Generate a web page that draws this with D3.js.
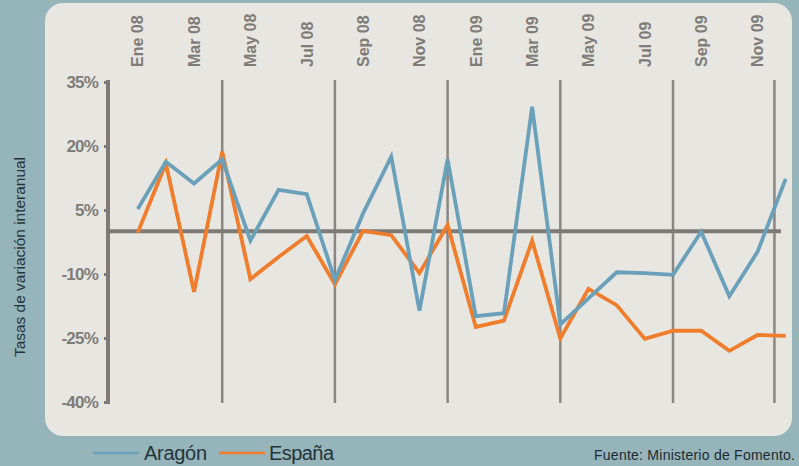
<!DOCTYPE html>
<html><head><meta charset="utf-8">
<script src="https://cdn.jsdelivr.net/npm/d3@7"></script>
<style>body{margin:0;background:#96b5bb;}svg{display:block;font-family:"Liberation Sans",Arial,sans-serif;}</style>
</head><body>
<svg id="c" width="799" height="466"></svg>
<script>
const months = ["Ene 08","Feb 08","Mar 08","Abr 08","May 08","Jun 08","Jul 08","Ago 08","Sep 08","Oct 08","Nov 08","Dic 08",
                "Ene 09","Feb 09","Mar 09","Abr 09","May 09","Jun 09","Jul 09","Ago 09","Sep 09","Oct 09","Nov 09","Dic 09"];
const tickMonths = ["Ene 08","Mar 08","May 08","Jul 08","Sep 08","Nov 08","Ene 09","Mar 09","May 09","Jul 09","Sep 09","Nov 09"];
const aragon = [5.2,16.3,11.2,16.9,-2.2,9.7,8.7,-11.4,4.2,17.5,-18.6,16.9,-19.9,-19.2,29.2,-21.8,-15.7,-9.6,-9.8,-10.2,-0.1,-15.2,-4.8,12.3];
const espana = [-0.3,15.9,-14.2,18.7,-11.2,-6.0,-1.1,-12.4,0.1,-0.9,-9.8,1.5,-22.4,-20.9,-2.2,-25.1,-13.5,-17.3,-25.2,-23.3,-23.3,-28.0,-24.3,-24.5];
const yTicks = [35,20,5,-10,-25,-40];
const gridAt = [3,7,11,15,19,22.6];
const seriesNames = ["Aragón","España"];
const colors = ["#6aa0ba","#f07d2c"];

const svg = d3.select("#c");
svg.append("rect").attr("x",0).attr("y",0).attr("width",799).attr("height",466).attr("fill","#96b5bb");
svg.append("rect").attr("x",45).attr("y",3).attr("width",747).attr("height",433).attr("rx",18).attr("fill","#e8e6e1");

const x = d3.scaleLinear().domain([0, months.length-1]).range([137.7, 785.7]);
const y = d3.scaleLinear().domain([-40,35]).range([402,82]);
const gray = "#7e7b77";

// vertical grid lines
svg.append("g").selectAll("line").data(gridAt).join("line")
  .attr("x1",d=>x(d)).attr("x2",d=>x(d)).attr("y1",80).attr("y2",403)
  .attr("stroke","#8a8783").attr("stroke-width",2.5);

// zero line
svg.append("line").attr("x1",108).attr("x2",781).attr("y1",y(0)).attr("y2",y(0))
  .attr("stroke",gray).attr("stroke-width",4);

// y axis
const yAxis = d3.axisLeft(y).tickValues(yTicks).tickFormat(d=>d+"%").tickSize(4).tickPadding(6);
const ga = svg.append("g").attr("transform","translate(108,0)").call(yAxis);
ga.select(".domain").attr("d","M0,80V404").attr("stroke",gray).attr("stroke-width",4).attr("fill","none");
ga.selectAll(".tick line").attr("stroke",gray).attr("stroke-width",3);
ga.selectAll(".tick text").attr("fill","#7f7c78").attr("font-size",17).attr("font-weight","bold")
  .attr("font-family","Liberation Sans, Arial, sans-serif").attr("letter-spacing",-0.8);

// x labels (top, rotated)
svg.append("g").selectAll("text").data(tickMonths).join("text")
  .attr("transform",d=>`translate(${x(months.indexOf(d))},67) rotate(-90)`)
  .attr("text-anchor","start").attr("dy","0.36em")
  .attr("fill","#7f7c78").attr("font-size",16).attr("font-weight","bold")
  .text(d=>d);

// y title
svg.append("text").attr("transform","translate(20,257) rotate(-90)")
  .attr("text-anchor","middle").attr("dy","0.36em").attr("font-size",15).attr("fill","#23343a")
  .attr("textLength",200).attr("lengthAdjust","spacingAndGlyphs").text("Tasas de variación interanual");

// lines
const line = d3.line().x((d,i)=>x(i)).y(d=>y(d));
[espana, aragon].forEach((s,k)=>{
  const c = k===0 ? colors[1] : colors[0];
  svg.append("path").datum(s).attr("d",line).attr("fill","none")
    .attr("stroke",c).attr("stroke-width",3.8).attr("stroke-linejoin","miter");
});

// legend
const lg = svg.append("g");
[[93,144],[219,269]].forEach((p,i)=>{
  lg.append("line").attr("x1",p[0]).attr("x2",p[0]+46).attr("y1",453).attr("y2",453).attr("stroke",colors[i]).attr("stroke-width",2.5);
  lg.append("text").attr("x",p[1]).attr("y",460).attr("font-size",20).attr("fill","#23343a").attr("textLength",i===0?63:65).text(seriesNames[i]);
});
svg.append("text").attr("x",795).attr("y",460).attr("text-anchor","end").attr("font-size",14).attr("fill","#1c2a30")
  .attr("textLength",201).text("Fuente: Ministerio de Fomento.");
</script>
</body></html>
